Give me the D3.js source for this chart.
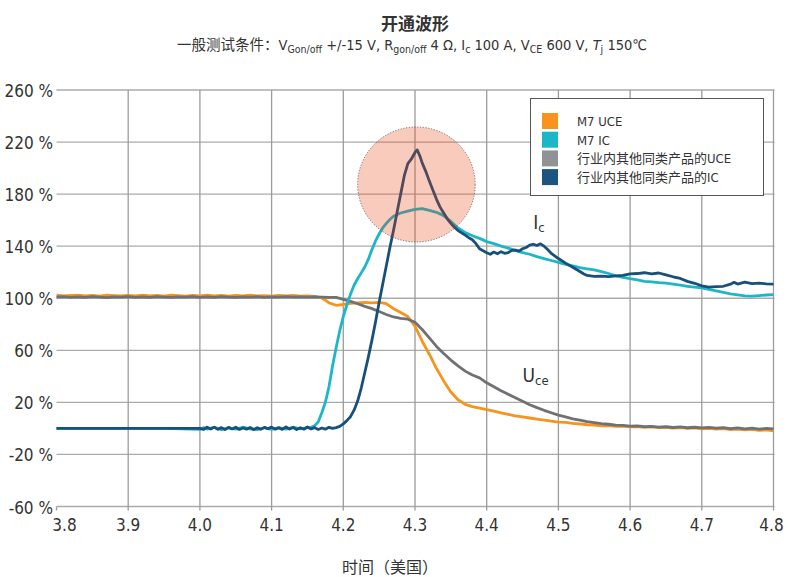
<!DOCTYPE html>
<html><head><meta charset="utf-8">
<script src="https://cdn.jsdelivr.net/npm/d3@7"></script>
<style>
html,body{margin:0;padding:0;background:#fff;}
svg{display:block;}
text{font-family:'Liberation Sans Narrow','DejaVu Sans Condensed','Noto Sans CJK SC',sans-serif;fill:#333;}
.cjk{font-family:'Noto Sans CJK SC',sans-serif;}
</style></head>
<body>
<svg id="chart" width="788" height="577"></svg>
<script>
// ---- data ----
const xTicks = [3.8,3.9,4.0,4.1,4.2,4.3,4.4,4.5,4.6,4.7,4.8];
const xTickLabels = ["3.8","3.9","4.0","4.1","4.2","4.3","4.4","4.5","4.6","4.7","4.8"];
const yTicks = [260,220,180,140,100,60,20,-20,-60];
const yTickLabels = ["260 %","220 %","180 %","140 %","100 %","60 %","20 %","-20 %","-60 %"];
const seriesNames = ["M7 UCE","M7 IC","行业内其他同类产品的UCE","行业内其他同类产品的IC"];

const m7Uce = [[3.80,102.3],[3.81,101.8],[3.82,102.1],[3.83,102.4],[3.84,101.9],[3.85,102.2],[3.86,101.7],[3.87,102.3],[3.88,102.0],[3.89,101.8],[3.90,102.2],[3.91,101.9],[3.92,102.4],[3.93,101.8],[3.94,102.1],[3.95,101.7],[3.96,102.3],[3.97,102.0],[3.98,101.6],[3.99,102.2],[4.00,101.9],[4.01,102.3],[4.02,101.8],[4.03,102.1],[4.04,101.7],[4.05,102.2],[4.06,101.9],[4.07,102.3],[4.08,101.8],[4.09,102.0],[4.10,101.7],[4.11,102.1],[4.12,101.9],[4.13,102.2],[4.14,101.6],[4.15,101.9],[4.16,101.5],[4.17,100.2],[4.175,98.5],[4.18,96.5],[4.19,94.6],[4.20,95.2],[4.21,96.0],[4.22,96.4],[4.23,96.8],[4.24,96.5],[4.25,96.9],[4.26,95.8],[4.265,94.0],[4.27,92.0],[4.28,89.0],[4.29,86.0],[4.30,78.5],[4.31,67.0],[4.32,57.0],[4.33,46.0],[4.34,36.5],[4.35,28.0],[4.36,22.0],[4.37,18.5],[4.38,16.8],[4.39,15.6],[4.40,14.4],[4.41,13.2],[4.42,11.9],[4.43,10.8],[4.44,9.7],[4.45,8.8],[4.46,8.0],[4.47,7.1],[4.48,6.3],[4.49,5.6],[4.50,4.9],[4.51,4.6],[4.52,3.8],[4.53,3.4],[4.54,2.8],[4.55,2.6],[4.56,2.0],[4.57,2.2],[4.58,1.6],[4.59,1.8],[4.60,1.2],[4.61,1.4],[4.62,0.8],[4.63,1.1],[4.64,0.6],[4.65,0.9],[4.66,0.3],[4.67,0.6],[4.68,0.0],[4.69,0.4],[4.70,-0.3],[4.71,0.1],[4.72,-0.6],[4.73,-0.2],[4.74,-0.9],[4.75,-0.5],[4.76,-1.2],[4.77,-0.8],[4.78,-1.5],[4.79,-1.1],[4.80,-1.8]];

const otherUce = [[3.80,100.8],[3.81,101.2],[3.82,100.6],[3.83,101.0],[3.84,100.7],[3.85,101.3],[3.86,100.9],[3.87,100.5],[3.88,101.1],[3.89,100.8],[3.90,101.2],[3.91,100.6],[3.92,101.0],[3.93,100.7],[3.94,101.2],[3.95,100.9],[3.96,100.6],[3.97,101.1],[3.98,100.8],[3.99,101.3],[4.00,100.7],[4.01,101.0],[4.02,100.6],[4.03,101.2],[4.04,100.9],[4.05,100.6],[4.06,101.1],[4.07,100.8],[4.08,101.2],[4.09,100.7],[4.10,101.0],[4.11,100.8],[4.12,101.2],[4.13,100.9],[4.14,101.1],[4.15,100.8],[4.16,101.0],[4.17,100.9],[4.18,100.7],[4.19,100.6],[4.20,99.2],[4.21,97.6],[4.22,95.8],[4.23,93.8],[4.24,92.0],[4.25,89.8],[4.26,87.5],[4.27,85.6],[4.28,84.6],[4.29,83.9],[4.30,81.5],[4.31,76.0],[4.32,69.5],[4.33,63.0],[4.34,57.5],[4.35,52.5],[4.36,48.0],[4.37,44.0],[4.38,41.0],[4.39,38.8],[4.40,35.0],[4.41,32.0],[4.42,29.0],[4.43,26.2],[4.44,23.5],[4.45,20.8],[4.46,18.2],[4.47,16.0],[4.48,13.9],[4.49,12.0],[4.50,10.2],[4.51,8.9],[4.52,7.4],[4.53,6.3],[4.54,5.2],[4.55,4.5],[4.56,3.6],[4.57,3.2],[4.58,2.5],[4.59,2.4],[4.60,1.8],[4.61,2.0],[4.62,1.3],[4.63,1.6],[4.64,1.0],[4.65,1.3],[4.66,0.7],[4.67,1.1],[4.68,0.5],[4.69,0.9],[4.70,0.4],[4.71,0.8],[4.72,0.2],[4.73,0.6],[4.74,-0.1],[4.75,0.4],[4.76,-0.3],[4.77,0.2],[4.78,-0.5],[4.79,0.0],[4.80,-0.4]];

const m7Ic = [[3.80,0.0],[3.85,0.0],[3.90,0.0],[3.95,0.0],[4.00,-0.8],[4.005,0.6],[4.01,-0.5],[4.02,0.8],[4.03,-0.9],[4.04,0.4],[4.05,-0.6],[4.06,0.9],[4.07,-0.4],[4.08,-1.0],[4.09,0.5],[4.10,-0.7],[4.11,0.7],[4.12,-0.5],[4.13,0.9],[4.14,-0.3],[4.15,0.6],[4.155,0.8],[4.16,2.0],[4.165,5.0],[4.17,12.0],[4.175,20.0],[4.18,32.0],[4.185,48.0],[4.19,62.0],[4.195,75.0],[4.20,86.0],[4.205,95.0],[4.21,103.0],[4.215,110.0],[4.22,115.0],[4.225,119.5],[4.23,124.0],[4.235,130.0],[4.24,137.5],[4.245,144.0],[4.25,149.5],[4.255,154.0],[4.26,157.5],[4.265,160.5],[4.27,163.0],[4.28,165.5],[4.29,167.0],[4.30,168.3],[4.31,168.8],[4.32,167.5],[4.33,166.0],[4.34,163.5],[4.35,159.0],[4.36,154.0],[4.37,150.5],[4.38,148.0],[4.39,146.0],[4.40,143.5],[4.41,142.0],[4.42,140.0],[4.43,138.5],[4.44,136.8],[4.45,135.0],[4.46,133.8],[4.47,132.0],[4.48,130.5],[4.49,129.0],[4.50,127.5],[4.51,126.0],[4.52,124.8],[4.53,123.5],[4.54,122.6],[4.55,121.8],[4.56,120.5],[4.57,119.0],[4.58,117.2],[4.59,116.0],[4.60,115.0],[4.61,114.2],[4.62,113.0],[4.63,112.6],[4.64,112.0],[4.65,111.6],[4.66,110.8],[4.67,110.0],[4.68,109.2],[4.69,108.5],[4.70,108.0],[4.71,106.8],[4.72,105.6],[4.73,104.5],[4.74,103.4],[4.75,102.6],[4.76,101.8],[4.77,101.6],[4.78,102.0],[4.79,102.5],[4.80,102.8]];

const otherIc = [[3.80,0],[3.90,0],[4.00,0],[4.005,-0.8],[4.01,0.9],[4.015,-0.5],[4.02,1.0],[4.025,-0.7],[4.03,0.6],[4.035,-0.9],[4.04,0.8],[4.045,-0.4],[4.05,0.9],[4.055,-0.8],[4.06,0.3],[4.065,-0.6],[4.07,0.7],[4.075,-0.9],[4.08,0.5],[4.085,-0.7],[4.09,0.8],[4.095,-0.3],[4.10,1.0],[4.105,-0.6],[4.11,0.4],[4.115,-0.8],[4.12,1.2],[4.125,-0.5],[4.13,0.7],[4.135,-0.9],[4.14,0.5],[4.145,-0.6],[4.15,1.1],[4.155,-0.4],[4.16,0.6],[4.165,-0.8],[4.17,0.3],[4.175,-0.6],[4.18,0.8],[4.185,0.0],[4.19,0.6],[4.195,1.5],[4.20,3.5],[4.205,6.0],[4.21,9.0],[4.215,14.0],[4.22,21.0],[4.225,31.0],[4.23,43.0],[4.235,55.0],[4.24,68.0],[4.245,82.0],[4.25,97.0],[4.255,111.0],[4.26,125.0],[4.265,139.0],[4.27,152.0],[4.275,166.0],[4.28,180.0],[4.285,194.0],[4.29,203.5],[4.295,207.0],[4.30,212.0],[4.303,214.0],[4.307,209.0],[4.31,204.0],[4.315,197.5],[4.32,190.0],[4.325,183.0],[4.33,176.0],[4.335,170.0],[4.34,165.5],[4.345,161.0],[4.35,157.5],[4.355,154.5],[4.36,152.0],[4.37,148.5],[4.375,146.5],[4.38,145.0],[4.385,142.0],[4.39,138.0],[4.395,136.5],[4.40,135.0],[4.405,133.8],[4.41,135.5],[4.415,134.2],[4.42,135.8],[4.425,134.5],[4.43,135.0],[4.435,136.8],[4.44,137.0],[4.445,136.2],[4.45,138.0],[4.455,139.0],[4.46,140.8],[4.465,141.5],[4.47,140.5],[4.475,141.8],[4.48,140.0],[4.485,137.5],[4.49,134.5],[4.50,130.5],[4.51,127.0],[4.52,123.8],[4.53,120.5],[4.535,118.8],[4.54,117.5],[4.55,116.8],[4.56,117.0],[4.57,116.6],[4.58,117.2],[4.59,117.5],[4.60,118.8],[4.61,119.0],[4.62,119.6],[4.63,118.8],[4.64,119.4],[4.65,118.0],[4.66,116.5],[4.67,115.2],[4.68,113.0],[4.69,111.5],[4.70,109.5],[4.71,108.6],[4.72,109.0],[4.73,109.2],[4.74,110.8],[4.745,112.2],[4.75,110.9],[4.76,112.4],[4.77,111.3],[4.78,111.6],[4.79,111.0],[4.80,110.8]];

// highlighted region: center (time, %) and radii (time, %)
const highlight = {cx:4.302, cy:187.4, rx:0.082, ry:44.2};
// curve labels: [main, sub, time, %]
const curveLabels = [["I","c",4.465,153],["U","ce",4.450,36]];

// ---- drawing ----
const colors = {m7Uce:"#f7941d", m7Ic:"#1db6c8", otherUce:"#707174", otherIc:"#18507a"};
const swatchColors = ["#f7941d","#1db6c8","#919295","#1b5580"];

const svg = d3.select("#chart");
const x = d3.scaleLinear().domain([3.8,4.8]).range([56.5,773.5]);
const y = d3.scaleLinear().domain([-60,260]).range([506.5,90]);

const grid = svg.append("g");
grid.selectAll("line.h").data(yTicks).join("line")
  .attr("x1",x(3.8)).attr("x2",x(4.8)+1).attr("y1",d=>y(d)).attr("y2",d=>y(d))
  .attr("stroke","#ababab").attr("stroke-width",1.3);
grid.selectAll("line.v").data(xTicks.slice(1)).join("line")
  .attr("x1",d=>x(d)).attr("x2",d=>x(d)).attr("y1",y(260)).attr("y2",y(-60)+4)
  .attr("stroke","#9c9c9c").attr("stroke-width",1.3);
grid.append("line").attr("x1",x(3.8)).attr("x2",x(3.8)).attr("y1",y(-60)).attr("y2",y(-60)+4)
  .attr("stroke","#9c9c9c").attr("stroke-width",1.3);

// tick labels
svg.append("g").selectAll("text").data(yTicks).join("text")
  .attr("x",53).attr("y",d=>y(d)+7).attr("text-anchor","end")
  .attr("font-size",17).text((d,i)=>yTickLabels[i]);
svg.append("g").selectAll("text").data(xTicks).join("text")
  .attr("x",d=>x(d)+(d===3.8?8:(d===4.8?-2:0))).attr("y",531).attr("text-anchor","middle")
  .attr("font-size",17).text((d,i)=>xTickLabels[i]);

const line = d3.line().x(d=>x(d[0])).y(d=>y(d[1]));
const plot = svg.append("g").attr("fill","none").attr("stroke-width",2.8).attr("stroke-linejoin","round");
plot.append("path").datum(m7Uce).attr("d",line).attr("stroke",colors.m7Uce);
plot.append("path").datum(otherUce).attr("d",line).attr("stroke",colors.otherUce);
plot.append("path").datum(m7Ic).attr("d",line).attr("stroke",colors.m7Ic);
plot.append("path").datum(otherIc).attr("d",line).attr("stroke",colors.otherIc);

// highlight ellipse
svg.append("ellipse")
  .attr("cx",x(highlight.cx)).attr("cy",y(highlight.cy))
  .attr("rx",x(highlight.cx+highlight.rx)-x(highlight.cx))
  .attr("ry",y(highlight.cy-highlight.ry)-y(highlight.cy))
  .attr("fill","rgb(232,62,10)").attr("fill-opacity",0.27)
  .attr("stroke","#555").attr("stroke-width",0.8).attr("stroke-dasharray","1.2,1.6");

// curve labels
curveLabels.forEach(c=>{
  const t = svg.append("text").attr("x",x(c[2])).attr("y",y(c[3])).attr("font-size",19).attr("fill","#333");
  t.append("tspan").text(c[0]);
  t.append("tspan").attr("dy",3).attr("font-size",13).text(c[1]);
});

// legend
const lg = svg.append("g");
lg.append("rect").attr("x",530.5).attr("y",98.5).attr("width",233).attr("height",97)
  .attr("fill","#fff").attr("stroke","#555").attr("stroke-width",1);
seriesNames.forEach((n,i)=>{
  lg.append("rect").attr("x",542).attr("y",113+i*18.7).attr("width",16).attr("height",16).attr("fill",swatchColors[i]);
  lg.append("text").attr("x",577).attr("y",126+i*18.7).attr("font-size",13).attr("fill","#444").text(n);
});

// title
svg.append("text").attr("class","cjk").attr("x",415).attr("y",30).attr("text-anchor","middle")
  .attr("font-size",17).attr("font-weight","bold").attr("fill","#222").text("开通波形");
const st = svg.append("text").attr("x",412).attr("y",50).attr("text-anchor","middle").attr("font-size",14.5).attr("fill","#333");
const parts = [["一般测试条件：",0,0],["V",0,0],["Gon/off",1,0],[" +/-15 V, R",0,0],["gon/off",1,0],[" 4 Ω, I",0,0],["c",1,0],[" 100 A, V",0,0],["CE",1,0],[" 600 V, ",0,0],["T",0,1],["j",1,0],[" 150℃",0,0]];
let shifted = false;
parts.forEach(p=>{
  const ts = st.append("tspan").text(p[0]);
  if(p[1]){ ts.attr("font-size",10.5).attr("dy",shifted?0:3); shifted=true; }
  else { if(shifted){ ts.attr("dy",-3); shifted=false; } }
  if(p[2]) ts.attr("font-style","italic");
});

// x axis title
svg.append("text").attr("class","cjk").attr("x",390).attr("y",573).attr("text-anchor","middle")
  .attr("font-size",16).attr("fill","#333").text("时间（美国）");
</script>
</body></html>
